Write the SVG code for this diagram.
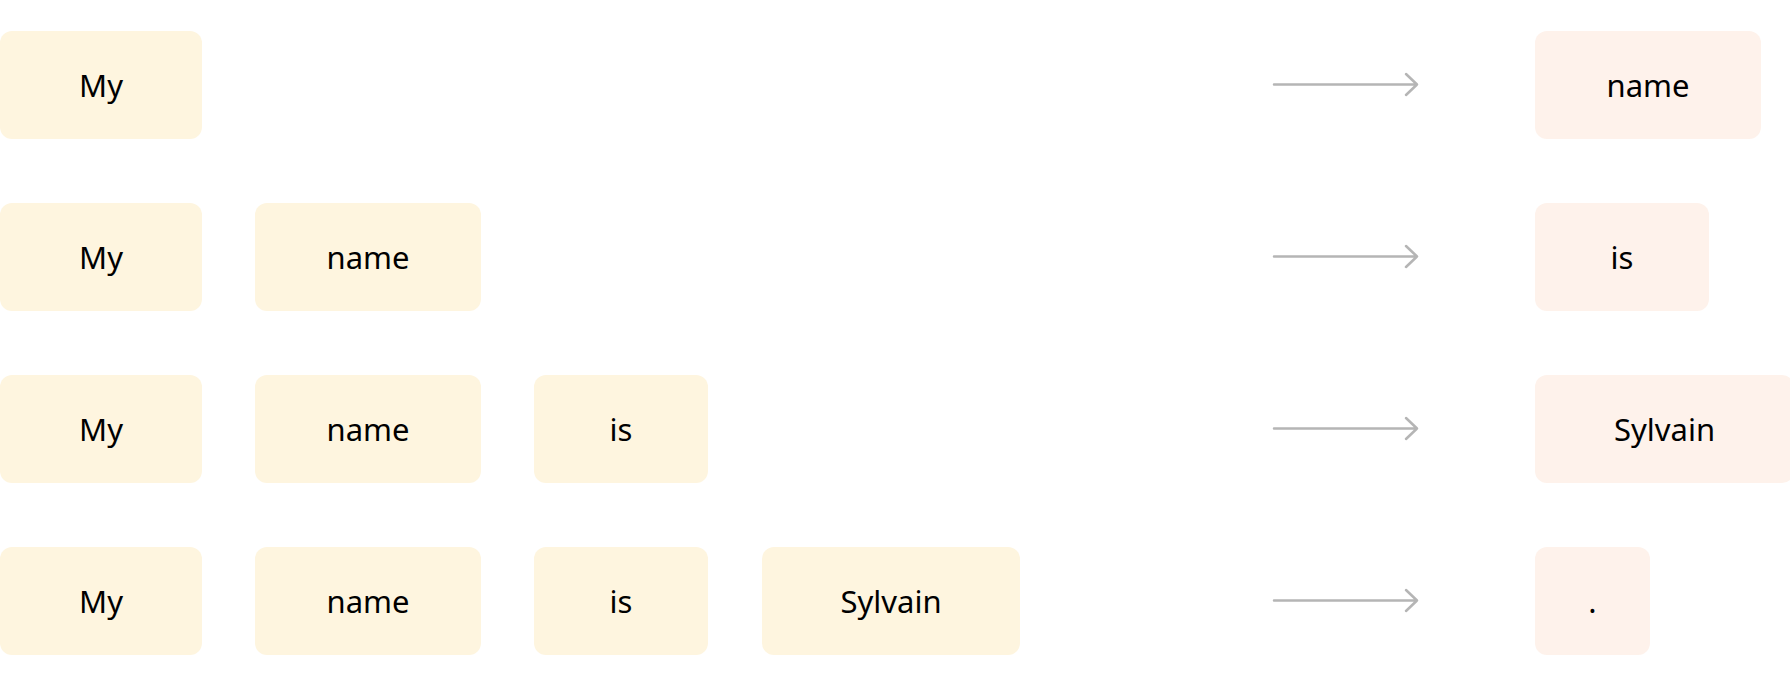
<svg xmlns="http://www.w3.org/2000/svg" width="1790" height="686" viewBox="0 0 1790 686">
<style>
.in{fill:#fef5df}
.out{fill:#fef2eb}
text{font-family:"Noto Sans","Open Sans",sans-serif;font-size:31px;fill:#000;text-anchor:middle}
.arr{fill:none;stroke:#b5b5b5;stroke-width:2.5;stroke-linecap:round;stroke-linejoin:round}
</style>
<rect width="1790" height="686" fill="#fff"/>
<g id="r1">
<g id="r1-my"><rect class="in" x="0" y="31" width="202" height="108" rx="12"/><text x="101" y="96.5">My</text></g>
<g id="r1-out"><rect class="out" x="1535" y="31" width="226" height="108" rx="12"/><text x="1648" y="96.5">name</text></g>
</g>
<g id="r2">
<g id="r2-my"><rect class="in" x="0" y="203" width="202" height="108" rx="12"/><text x="101" y="268.5">My</text></g>
<g id="r2-name"><rect class="in" x="255" y="203" width="226" height="108" rx="12"/><text x="368" y="268.5">name</text></g>
<g id="r2-out"><rect class="out" x="1535" y="203" width="174" height="108" rx="12"/><text x="1622" y="268.5">is</text></g>
</g>
<g id="r3">
<g id="r3-my"><rect class="in" x="0" y="375" width="202" height="108" rx="12"/><text x="101" y="440.5">My</text></g>
<g id="r3-name"><rect class="in" x="255" y="375" width="226" height="108" rx="12"/><text x="368" y="440.5">name</text></g>
<g id="r3-is"><rect class="in" x="534" y="375" width="174" height="108" rx="12"/><text x="621" y="440.5">is</text></g>
<g id="r3-out"><rect class="out" x="1535" y="375" width="259" height="108" rx="12"/><text x="1664.5" y="440.5">Sylvain</text></g>
</g>
<g id="r4">
<g id="r4-my"><rect class="in" x="0" y="547" width="202" height="108" rx="12"/><text x="101" y="612.5">My</text></g>
<g id="r4-name"><rect class="in" x="255" y="547" width="226" height="108" rx="12"/><text x="368" y="612.5">name</text></g>
<g id="r4-is"><rect class="in" x="534" y="547" width="174" height="108" rx="12"/><text x="621" y="612.5">is</text></g>
<g id="r4-sylvain"><rect class="in" x="762" y="547" width="258" height="108" rx="12"/><text x="891" y="612.5">Sylvain</text></g>
<g id="r4-out"><rect class="out" x="1535" y="547" width="115" height="108" rx="12"/><text x="1592.5" y="612.5">.</text></g>
</g>
<g id="connectors">
<path class="arr" d="M1274 84.5H1417M1406 74L1417 84.5L1406 95"/>
<path class="arr" d="M1274 256.5H1417M1406 246L1417 256.5L1406 267"/>
<path class="arr" d="M1274 428.5H1417M1406 418L1417 428.5L1406 439"/>
<path class="arr" d="M1274 600.5H1417M1406 590L1417 600.5L1406 611"/>
</g>
</svg>
